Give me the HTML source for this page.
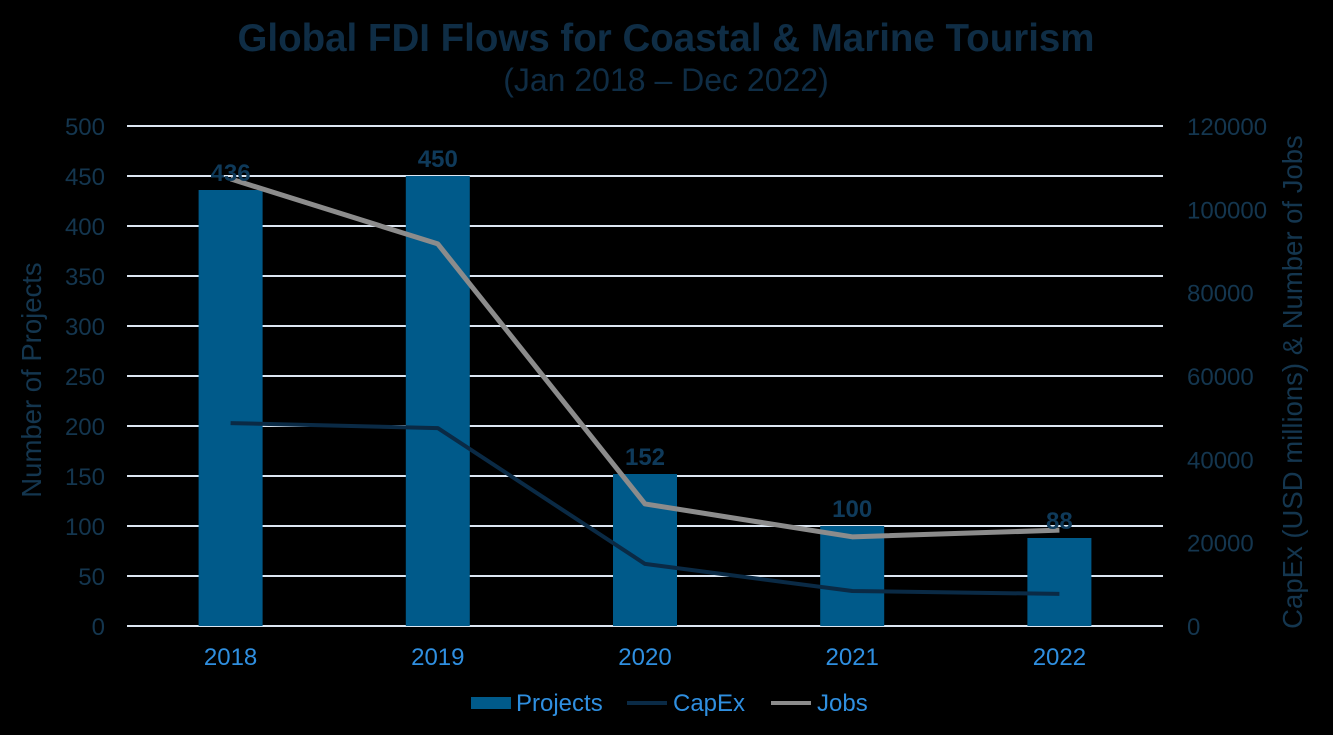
<!DOCTYPE html>
<html><head><meta charset="utf-8"><style>
html,body{margin:0;padding:0;background:#000;}
svg{display:block;font-family:"Liberation Sans",Arial,sans-serif;}
</style></head><body>
<svg id="chart" width="1333" height="735">
<rect width="1333" height="735" fill="#000"/>
<text x="666" y="51" text-anchor="middle" font-size="38.5" font-weight="bold" fill="#0f2d45">Global FDI Flows for Coastal &amp; Marine Tourism</text>
<text x="666" y="91" text-anchor="middle" font-size="32" fill="#0f2d45">(Jan 2018 – Dec 2022)</text>
<text transform="translate(41,380) rotate(-90)" text-anchor="middle" font-size="27.5" fill="#14364f">Number of Projects</text>
<text transform="translate(1302,382) rotate(-90)" text-anchor="middle" font-size="27.5" fill="#14364f">CapEx (USD millions) &amp; Number of Jobs</text>
<g id="grid"></g><g id="bars"></g><g id="lines"></g><g id="labels"></g>
<g>
<rect x="471" y="697" width="40" height="12" fill="#005a8a"/>
<text x="516" y="711" font-size="24" fill="#2f8fe0">Projects</text>
<line x1="627" y1="703" x2="667" y2="703" stroke="#0a2a45" stroke-width="4"/>
<text x="673" y="711" font-size="24" fill="#2f8fe0">CapEx</text>
<line x1="771" y1="703" x2="811" y2="703" stroke="#8c8c8c" stroke-width="4"/>
<text x="817" y="711" font-size="24" fill="#2f8fe0">Jobs</text>
</g>
</svg>
<script>
const years = ["2018","2019","2020","2021","2022"];
const projects = [436,450,152,100,88];
const capex = [48700,47500,14900,8400,7700];
const jobs = [107300,91700,29300,21400,23000];
const leftTicks = [0,50,100,150,200,250,300,350,400,450,500];
const rightTicks = [0,20000,40000,60000,80000,100000,120000];

const NS="http://www.w3.org/2000/svg";
const X0=127,X1=1163,Y0=626,Y1=126;
const band=(X1-X0)/years.length;
const xc=i=>X0+band*(i+0.5);
const yL=v=>Y0-(v/500)*(Y0-Y1);
const yR=v=>Y0-(v/120000)*(Y0-Y1);
function mk(tag,attrs,parent,text){const e=document.createElementNS(NS,tag);for(const k in attrs)e.setAttribute(k,attrs[k]);if(text!=null)e.textContent=text;document.getElementById(parent).appendChild(e);return e;}

leftTicks.forEach(t=>{
  const l=mk("line",{x1:X0,x2:X1,y1:yL(t),y2:yL(t),stroke:"#dce6f2","stroke-width":2},"grid");
  
  
  const tx=mk("text",{x:105,y:yL(t)+9,"text-anchor":"end","font-size":24,fill:"#14364f"},"grid",t);
  
  
});
rightTicks.forEach(t=>{
  const tx=mk("text",{x:1187,y:yR(t)+9,"font-size":24,fill:"#14364f"},"grid",t);
  
  
});
years.forEach((y,i)=>{
  const tx=mk("text",{x:xc(i),y:665,"text-anchor":"middle","font-size":24,fill:"#2f8fe0"},"labels",y);
  
  
  const b=mk("rect",{x:xc(i)-32,y:yL(projects[i]),width:64,height:Y0-yL(projects[i]),fill:"#005a8a"},"bars");
  
  
  const v=mk("text",{x:xc(i),y:yL(projects[i])-9,"text-anchor":"middle","font-size":24,"font-weight":"bold",fill:"#0f3a5a"},"labels",projects[i]);
  
  
});
const cp=mk("polyline",{points:capex.map((v,i)=>xc(i)+","+yR(v)).join(" "),fill:"none",stroke:"#0a2a45","stroke-width":4,"stroke-linejoin":"round"},"lines");


const jp=mk("polyline",{points:jobs.map((v,i)=>xc(i)+","+yR(v)).join(" "),fill:"none",stroke:"#8c8c8c","stroke-width":5,"stroke-linejoin":"round"},"lines");


</script>
</body></html>
